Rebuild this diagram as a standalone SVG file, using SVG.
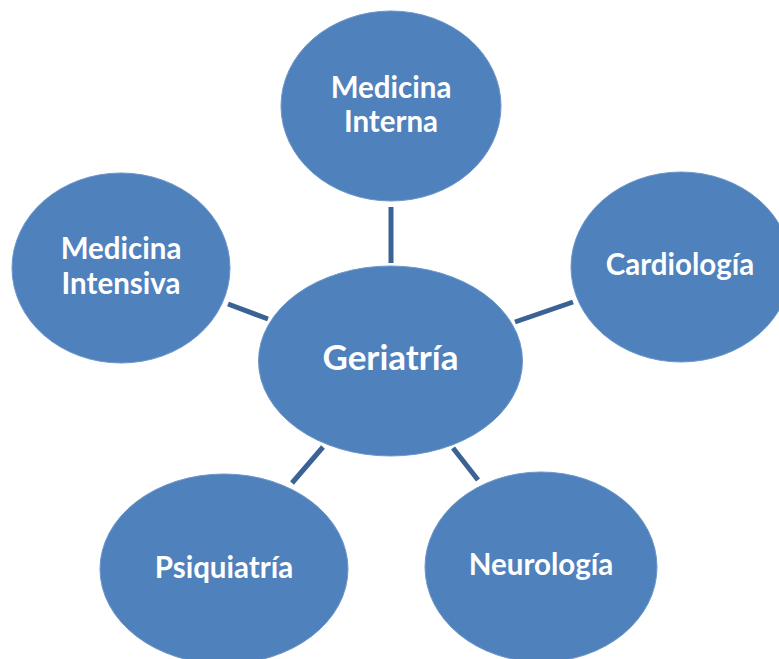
<svg xmlns="http://www.w3.org/2000/svg" width="779" height="659" viewBox="0 0 779 659">
<style>
.node{fill:#4F81BD;stroke:#6E97C8;stroke-width:1}
.lbl{fill:#FFFFFF;font-family:Lato,"Open Sans","Liberation Sans",sans-serif;font-weight:bold;font-size:29.5px;text-anchor:middle}
.big{font-size:35px}
.conn line{stroke:#3B6295;stroke-width:5}
</style>
<rect width="779" height="659" fill="#FFFFFF"/>
<g id="connectors" class="conn">
<line x1="391" y1="207" x2="391" y2="263"/>
<line x1="228" y1="304" x2="268" y2="319"/>
<line x1="515" y1="322" x2="573" y2="302"/>
<line x1="292" y1="483" x2="323" y2="447"/>
<line x1="453" y1="448" x2="478" y2="480"/>
</g>
<g id="medicina-interna">
<ellipse class="node" cx="391" cy="106" rx="110" ry="95"/>
<text class="lbl" x="391" y="98">Medicina</text>
<text class="lbl" x="391" y="132">Interna</text>
</g>
<g id="medicina-intensiva">
<ellipse class="node" cx="121" cy="268" rx="109" ry="95"/>
<text class="lbl" x="121" y="259">Medicina</text>
<text class="lbl" x="121" y="294">Intensiva</text>
</g>
<g id="cardiologia">
<ellipse class="node" cx="681" cy="267" rx="110" ry="95"/>
<text class="lbl" x="680" y="275">Cardiología</text>
</g>
<g id="geriatria">
<ellipse class="node" cx="390.5" cy="361" rx="132" ry="95"/>
<text class="lbl big" x="390.5" y="370">Geriatría</text>
</g>
<g id="psiquiatria">
<ellipse class="node" cx="224" cy="569" rx="124" ry="95"/>
<text class="lbl" x="224" y="578">Psiquiatría</text>
</g>
<g id="neurologia">
<ellipse class="node" cx="541" cy="567" rx="116" ry="95"/>
<text class="lbl" x="541" y="575">Neurología</text>
</g>
</svg>
